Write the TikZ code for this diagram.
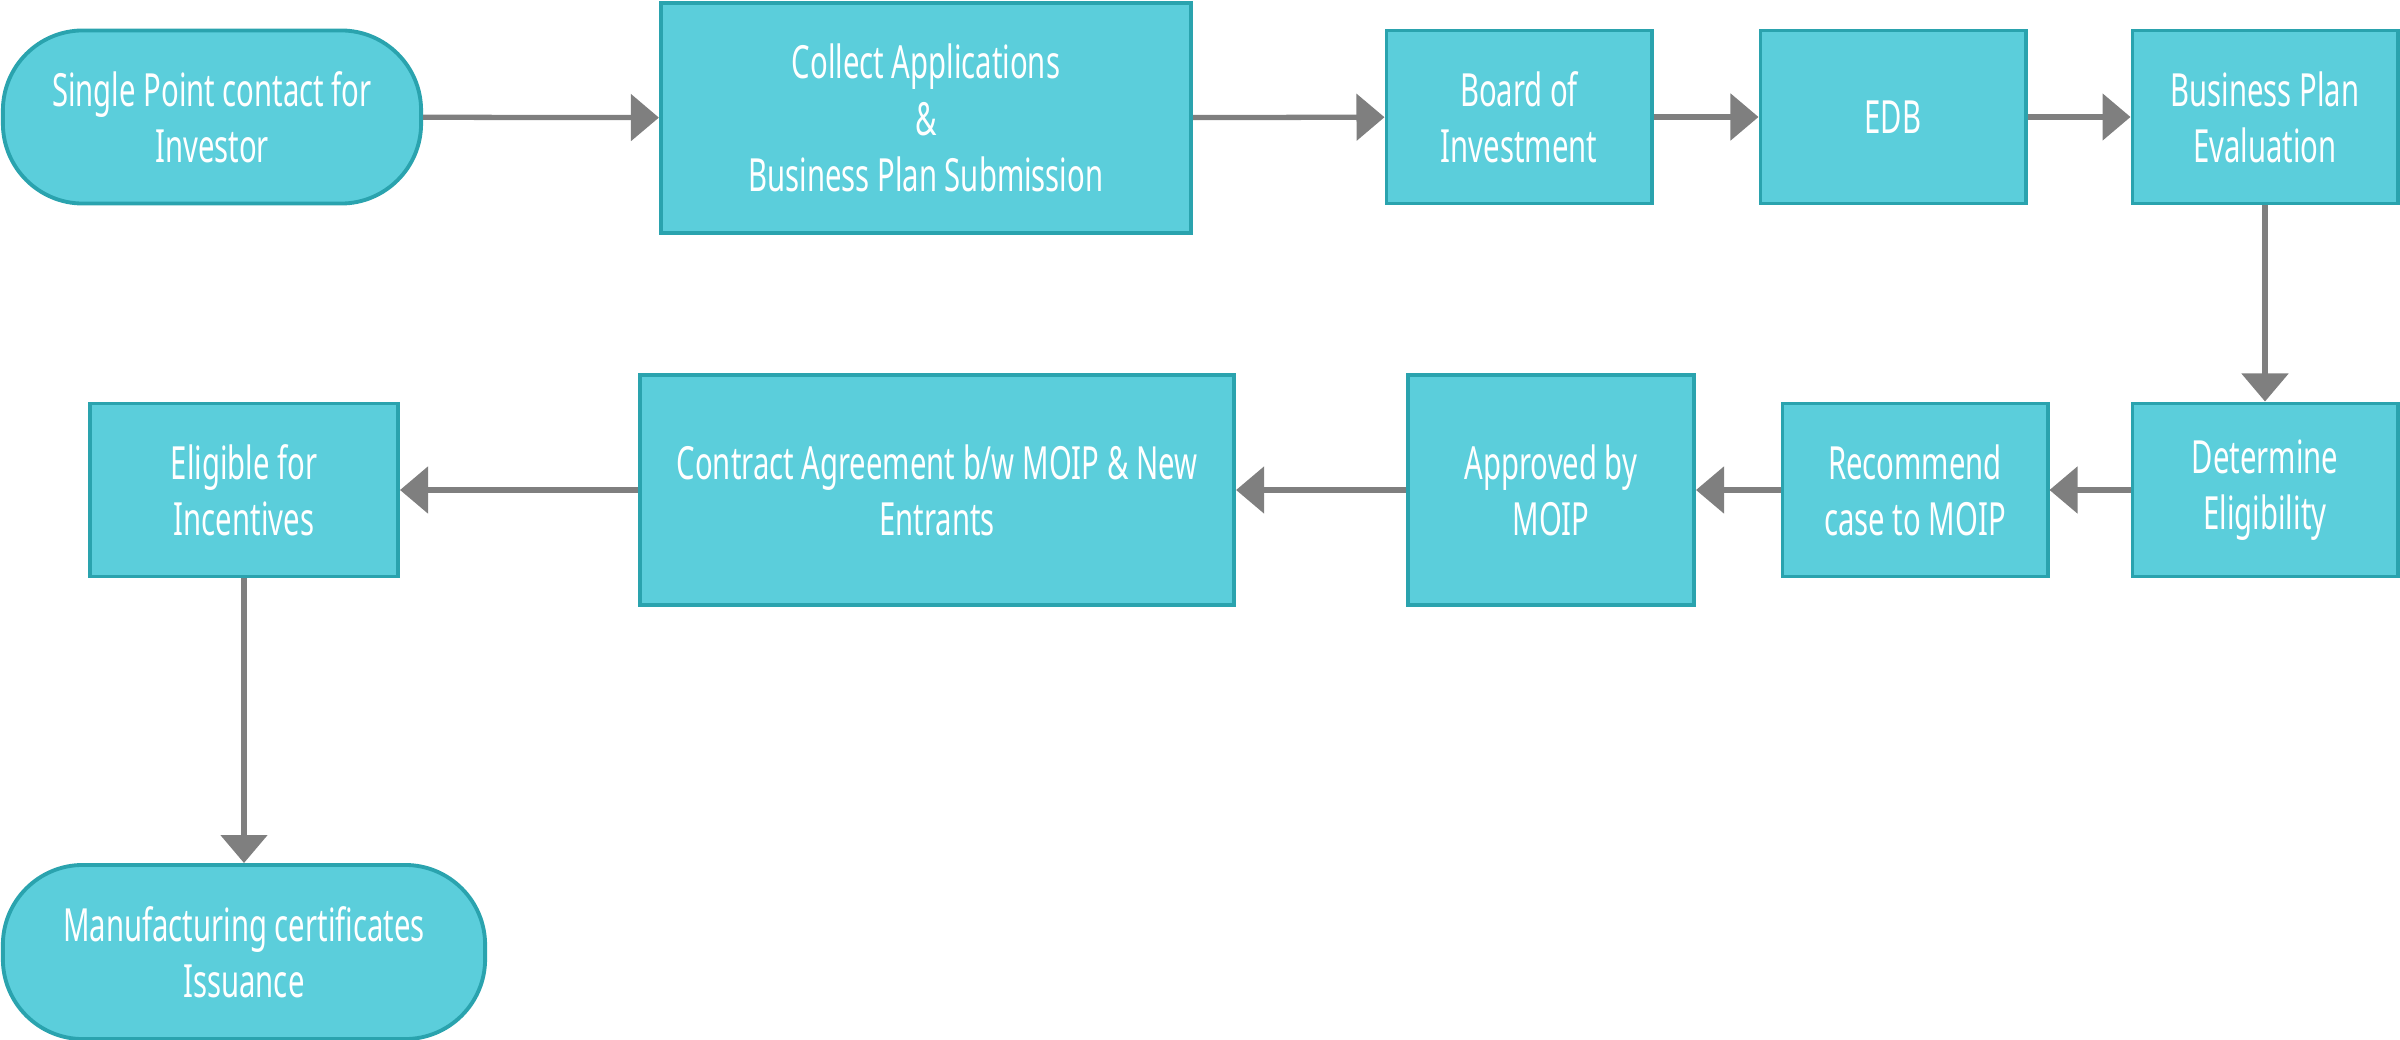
\documentclass[tikz,border=0pt]{standalone}
\usepackage{fontspec}
\setmainfont[FakeStretch=0.64]{Noto Sans}
\usetikzlibrary{arrows.meta}
\definecolor{boxfill}{HTML}{5BCEDB}
\definecolor{boxline}{HTML}{2AA3AE}
\definecolor{flowgray}{HTML}{7F7F7F}
\tikzset{
		procbox/.style={
			draw=boxline, fill=boxfill, line width=1.1pt, text=white,
			align=center, inner sep=0pt,
			minimum width=2.65cm, minimum height=1.73cm,
			font=\fontsize{13}{16}\selectfont
		},
		termbox/.style={procbox, rounded corners=0.8cm},
		flow/.style={draw=flowgray, line width=1.5pt,
			-{Triangle[length=0.28cm,width=0.46cm]}}
	}
\begin{document}
\begin{tikzpicture}[x=0.01cm, y=-0.01cm]
				\useasboundingbox (0,0) rectangle (2400,1040);
				% top row
				\node[termbox, minimum width=4.18cm] (single) at (212,117) {Single Point contact for\\Investor};
				\node[procbox, minimum width=5.3cm, minimum height=2.3cm] (collect) at (926,118) {Collect Applications\\\&\\Business Plan Submission};
				\node[procbox] (board) at (1519,117) {Board of\\Investment};
				\node[procbox] (edb) at (1893,117) {EDB};
				\node[procbox] (bpe) at (2265,117) {Business Plan\\Evaluation};
				% second row
				\node[procbox] (determine) at (2265,490) {Determine\\Eligibility};
				\node[procbox] (recommend) at (1915,490) {Recommend\\case to MOIP};
				\node[procbox, minimum width=2.86cm, minimum height=2.3cm] (approved) at (1551,490) {Approved by\\MOIP};
				\node[procbox, minimum width=5.94cm, minimum height=2.3cm] (contract) at (937,490) {Contract Agreement b/w MOIP \& New\\Entrants};
				\node[procbox, minimum width=3.08cm] (eligible) at (244,490) {Eligible for\\Incentives};
				% last
				\node[termbox, minimum width=4.82cm, minimum height=1.74cm] (manuf) at (244,952) {Manufacturing certificates\\Issuance};

				\draw[flow] (single) -- (collect);
				\draw[flow] (collect) -- (board);
				\draw[flow] (board) -- (edb);
				\draw[flow] (edb) -- (bpe);
				\draw[flow] (bpe) -- (determine);
				\draw[flow] (determine) -- (recommend);
				\draw[flow] (recommend) -- (approved);
				\draw[flow] (approved) -- (contract);
				\draw[flow] (contract) -- (eligible);
				\draw[flow] (eligible) -- (manuf);
			\end{tikzpicture}
\end{document}
